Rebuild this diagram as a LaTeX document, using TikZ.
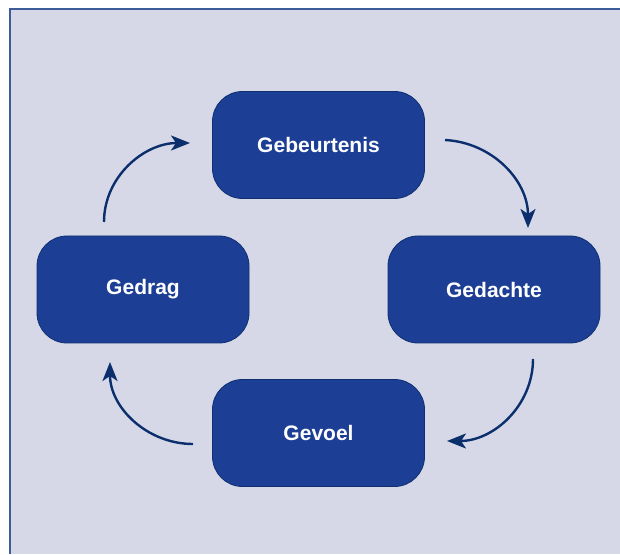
\documentclass[tikz,border=0pt]{standalone}
\usepackage{fontspec}
\setmainfont{Liberation Sans}
\usetikzlibrary{arrows.meta}
\definecolor{bgfill}{HTML}{D6D8E8}
\definecolor{frameblue}{HTML}{3C5C9C}
\definecolor{boxfill}{HTML}{1C3F95}
\definecolor{boxline}{HTML}{0E2F70}
\definecolor{arrowblue}{HTML}{0B2F6C}
\tikzset{
  stagebox/.style={draw=boxline, line width=0.8pt, fill=boxfill, rounded corners=30pt,
    minimum width=212pt, minimum height=107pt, inner sep=0pt,
    text=white, font=\bfseries\fontsize{21}{24}\selectfont},
  cyclearrow/.style={draw=arrowblue, line width=2.4pt,
    -{Stealth[length=19pt,width=15pt,inset=5pt]}}
}
\begin{document}
\begin{tikzpicture}[x=1pt,y=1pt]
\useasboundingbox (0,0) rectangle (620,554);
\fill[bgfill] (9,0) rectangle (620,545);
\draw[frameblue, line width=2pt] (10,0) -- (10,544.5) -- (620,544.5);
\node[stagebox] (geb) at (318.5,409) {Gebeurtenis};
\node[stagebox] (gedrag) at (143,264.5) {Gedrag};
\node[stagebox] (gedachte) at (494,264.5) {Gedachte};
\node[stagebox] (gevoel) at (318.5,121) {Gevoel};
\coordinate (a1s) at (445,414);
\coordinate (a1e) at (528,326);
\coordinate (a2s) at (533,195);
\coordinate (a2e) at (447,113);
\coordinate (a3s) at (193,110);
\coordinate (a3e) at (110,192);
\coordinate (a4s) at (104,332);
\coordinate (a4e) at (190,411);
\draw[cyclearrow] (a1s) to[out=-3,in=90] (a1e);
\draw[cyclearrow] (a2s) to[out=-90,in=0] (a2e);
\draw[cyclearrow] (a3s) to[out=180,in=-90] (a3e);
\draw[cyclearrow] (a4s) to[out=90,in=180] (a4e);
\end{tikzpicture}
\end{document}
